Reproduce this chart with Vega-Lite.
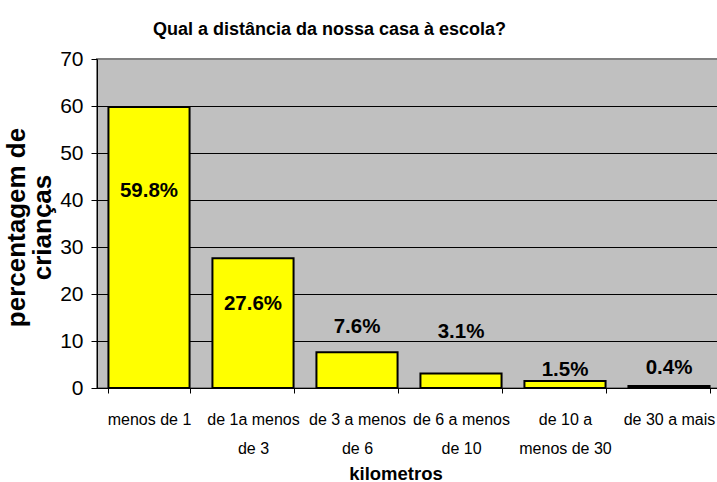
{
  "$schema": "https://vega.github.io/schema/vega-lite/v6.json",
  "autosize": {"type": "none"},
  "width": 624,
  "height": 329,
  "padding": {"left": 97, "top": 59, "right": 0, "bottom": 94},
  "background": "white",
  "config": {
    "view": {"fill": "#C0C0C0", "stroke": "#808080", "strokeWidth": 2}
  },
  "title": {
    "text": "Qual a distância da nossa casa à escola?",
    "font": "Liberation Sans",
    "fontSize": 18,
    "fontWeight": "bold",
    "color": "black",
    "anchor": "middle",
    "baseline": "alphabetic",
    "dx": -79.5,
    "dy": 31,
    "offset": 26
  },
  "data": {
    "values": [
      {"faixa": "menos de 1", "pct": 59.8, "rotulo": "59.8%"},
      {"faixa": "de 1a menos de 3", "pct": 27.6, "rotulo": "27.6%"},
      {"faixa": "de 3 a menos de 6", "pct": 7.6, "rotulo": "7.6%"},
      {"faixa": "de 6 a menos de 10", "pct": 3.1, "rotulo": "3.1%"},
      {"faixa": "de 10 a menos de 30", "pct": 1.5, "rotulo": "1.5%"},
      {"faixa": "de 30 a mais", "pct": 0.4, "rotulo": "0.4%"}
    ]
  },
  "encoding": {
    "x": {
      "field": "faixa",
      "type": "nominal",
      "sort": null,
      "scale": {"paddingInner": 0.22, "paddingOuter": 0.11},
      "axis": {
        "title": "kilometros",
        "titleFont": "Liberation Sans",
        "titleFontSize": 18.5,
        "titleFontWeight": "bold",
        "titleColor": "black",
        "titleX": 298.5,
        "titleY": 91,
        "titleAlign": "center",
        "titleBaseline": "alphabetic",
        "labelAngle": 0,
        "labelFont": "Liberation Sans",
        "labelFontSize": 16,
        "labelColor": "black",
        "labelLineHeight": 29,
        "labelPadding": 18,
        "labelLimit": 200,
        "labelExpr": "datum.label == 'de 1a menos de 3' ? ['de 1a menos','de 3'] : datum.label == 'de 3 a menos de 6' ? ['de 3 a menos','de 6'] : datum.label == 'de 6 a menos de 10' ? ['de 6 a menos','de 10'] : datum.label == 'de 10 a menos de 30' ? ['de 10 a','menos de 30'] : datum.label",
        "tickBand": "extent",
        "tickSize": 5,
        "tickColor": "black",
        "domainColor": "black",
        "domainWidth": 1
      }
    }
  },
  "layer": [
    {
      "mark": {"type": "bar", "fill": "#FFFF00", "stroke": "black", "strokeWidth": 2},
      "encoding": {
        "y": {
          "field": "pct",
          "type": "quantitative",
          "scale": {"domain": [0, 70], "nice": false},
          "axis": {
            "title": ["percentagem de", "crianças"],
            "titleFont": "Liberation Sans",
            "titleFontSize": 26,
            "titleFontWeight": "bold",
            "titleColor": "black",
            "titleLineHeight": 26,
            "titleAngle": -90,
            "titleAlign": "center",
            "titleBaseline": "middle",
            "titleX": -81,
            "titleY": 168,
            "values": [0, 10, 20, 30, 40, 50, 60, 70],
            "labelFont": "Liberation Sans",
            "labelFontSize": 21,
            "labelColor": "black",
            "labelPadding": 8,
            "tickSize": 6,
            "tickColor": "black",
            "domainColor": "black",
            "grid": true,
            "gridColor": {"condition": {"test": "datum.value === 70", "value": "#808080"}, "value": "black"},
            "gridWidth": 1,
            "gridOpacity": 1
          }
        }
      }
    },
    {
      "transform": [{"filter": "datum.faixa === 'menos de 1'"}],
      "mark": {"type": "text", "font": "Liberation Sans", "fontSize": 20.5, "fontWeight": "bold", "color": "black", "baseline": "alphabetic", "dy": 90},
      "encoding": {"y": {"field": "pct", "type": "quantitative"}, "text": {"field": "rotulo"}}
    },
    {
      "transform": [{"filter": "datum.faixa === 'de 1a menos de 3'"}],
      "mark": {"type": "text", "font": "Liberation Sans", "fontSize": 20.5, "fontWeight": "bold", "color": "black", "baseline": "alphabetic", "dy": 52},
      "encoding": {"y": {"field": "pct", "type": "quantitative"}, "text": {"field": "rotulo"}}
    },
    {
      "transform": [{"filter": "datum.faixa === 'de 3 a menos de 6'"}],
      "mark": {"type": "text", "font": "Liberation Sans", "fontSize": 20.5, "fontWeight": "bold", "color": "black", "baseline": "alphabetic", "dy": -19},
      "encoding": {"y": {"field": "pct", "type": "quantitative"}, "text": {"field": "rotulo"}}
    },
    {
      "transform": [{"filter": "datum.faixa === 'de 6 a menos de 10'"}],
      "mark": {"type": "text", "font": "Liberation Sans", "fontSize": 20.5, "fontWeight": "bold", "color": "black", "baseline": "alphabetic", "dy": -35},
      "encoding": {"y": {"field": "pct", "type": "quantitative"}, "text": {"field": "rotulo"}}
    },
    {
      "transform": [{"filter": "datum.faixa === 'de 10 a menos de 30'"}],
      "mark": {"type": "text", "font": "Liberation Sans", "fontSize": 20.5, "fontWeight": "bold", "color": "black", "baseline": "alphabetic", "dy": -5},
      "encoding": {"y": {"field": "pct", "type": "quantitative"}, "text": {"field": "rotulo"}}
    },
    {
      "transform": [{"filter": "datum.faixa === 'de 30 a mais'"}],
      "mark": {"type": "text", "font": "Liberation Sans", "fontSize": 20.5, "fontWeight": "bold", "color": "black", "baseline": "alphabetic", "dy": -12},
      "encoding": {"y": {"field": "pct", "type": "quantitative"}, "text": {"field": "rotulo"}}
    }
  ]
}
